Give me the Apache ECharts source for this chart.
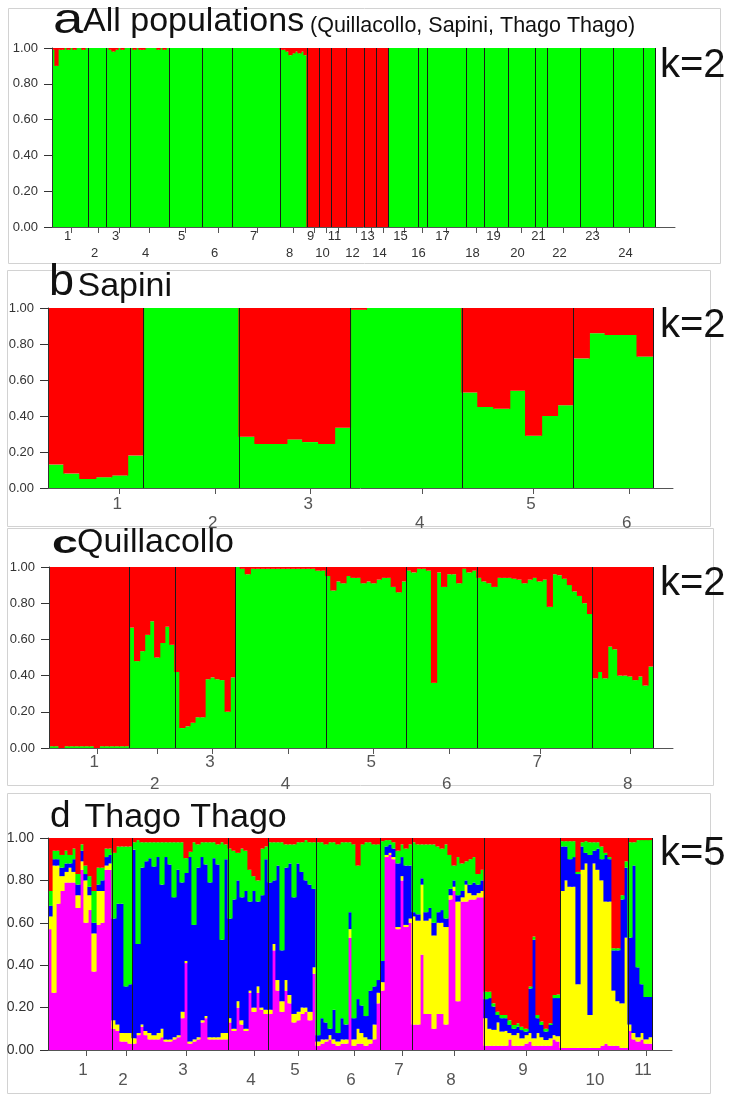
<!DOCTYPE html>
<html><head><meta charset="utf-8"><title>STRUCTURE plots</title>
<script src="https://cdn.jsdelivr.net/npm/echarts@6/dist/echarts.min.js"></script>
<style>html,body{margin:0;padding:0;background:#fff;}#chart{width:737px;height:1103px;}</style>
</head><body><div id="chart"></div>
<script>
const GREEN = '#00ff00', RED = '#ff0000', BLUE = '#0000ff', YELLOW = '#ffff00', MAGENTA = '#ff00ff';

// ---------- Panel a: All populations (k=2) ----------
const aPopLabels = ['1','2','3','4','5','6','7','8','9','10','11','12','13','14','15','16','17','18','19','20','21','22','23','24','25'];
const aPopSizes = [12,6,8,13,11,10,16,9,4,4,5,6,4,4,10,3,13,6,8,9,4,11,11,10,4];
const aGreen = [
  0.99,0.90,0.99,0.99,1,0.99,1,0.99,1,1,0.99,1,
  1,1,1,1,1,1,
  1,0.99,0.98,0.99,1,0.99,1,1,
  1,0.99,1,0.99,0.99,1,1,1,1,0.99,1,0.99,1,
  1,1,1,1,1,1,1,1,1,1,1,
  1,1,1,1,1,1,1,1,1,1,
  1,1,1,1,1,1,1,1,1,1,1,1,1,1,1,1,
  0.99,0.99,0.98,0.96,0.97,0.98,0.97,0.98,0.96,
  0,0,0,0,
  0,0,0,0,
  0,0,0,0,0,
  0,0,0,0,0,0,
  0,0,0,0,
  0,0,0,0,
  1,1,1,1,1,1,1,1,1,1,
  1,1,1,
  1,1,1,1,1,1,1,1,1,1,1,1,1,
  1,1,1,1,1,1,
  1,1,1,1,1,1,1,1,
  1,1,1,1,1,1,1,1,1,
  1,1,1,1,
  1,1,1,1,1,1,1,1,1,1,1,
  1,1,1,1,1,1,1,1,1,1,1,
  1,1,1,1,1,1,1,1,1,1,
  1,1,1,1
];

// ---------- Panel b: Sapini (k=2) ----------
const bPopLabels = ['1','2','3','4','5','6'];
const bPopSizes = [6,6,7,7,7,5];
const bGreen = [
  0.13,0.08,0.05,0.06,0.07,0.18,
  1,1,1,1,1,1,
  0.285,0.245,0.245,0.27,0.255,0.245,0.335,
  0.99,1,1,1,1,1,1,
  0.53,0.45,0.44,0.54,0.29,0.40,0.46,
  0.72,0.86,0.85,0.85,0.73
];

// ---------- Panel c: Quillacollo (k=2) ----------
const cPopLabels = ['1','2','3','4','5','6','7','8'];
const cPopSizes = [16,9,12,18,16,14,23,12];
const cGreen = [
  0.01,0.01,0,0.01,0.01,0.01,0.01,0.01,0.01,0,0.01,0.01,0.01,0.01,0.01,0.01,
  0.665,0.48,0.535,0.625,0.70,0.50,0.58,0.67,0.57,
  0.42,0.11,0.12,0.14,0.17,0.17,0.38,0.39,0.38,0.375,0.20,0.39,
  1,0.99,0.96,0.99,0.99,0.99,0.99,0.99,0.99,0.99,0.99,0.99,0.99,0.99,0.99,0.99,0.98,0.98,
  0.95,0.87,0.92,0.91,0.95,0.94,0.94,0.91,0.92,0.91,0.93,0.94,0.94,0.89,0.86,0.92,
  0.98,0.97,0.99,0.99,0.98,0.36,0.97,0.89,0.96,0.96,0.91,0.99,0.97,0.98,
  0.94,0.92,0.91,0.89,0.94,0.94,0.94,0.935,0.93,0.91,0.93,0.94,0.92,0.93,0.78,0.96,0.955,0.935,0.90,0.865,0.84,0.80,0.74,
  0.385,0.42,0.385,0.56,0.545,0.40,0.40,0.395,0.375,0.395,0.345,0.45
];

// ---------- Panel d: Thago Thago (k=5) ----------
const dPopLabels = ['1','2','3','4','5','6','7','8','9','10','11'];
const dPopSizes = [16,5,24,10,12,16,8,18,19,17,6];
const dMagenta = [
  .57,.27,.69,.75,.79,.79,.79,.67,.85,.60,.66,.37,.59,.60,.85,.85,
  .10,.09,.04,.04,.03,
  .03,.07,.11,.07,.05,.05,.05,.06,.04,.04,.05,.06,.15,.41,.03,.04,.05,.13,.15,.05,.05,.05,.05,.05,
  .13,.09,.20,.12,.09,.27,.18,.27,.19,.17,
  .17,.47,.28,.18,.28,.22,.13,.14,.17,.18,.14,.36,
  .02,.03,.04,.05,.03,.02,.03,.03,.53,.02,.03,.03,.02,.03,.05,.22,
  .28,.91,.92,.90,.57,.80,.58,.60,
  .12,.12,.45,.17,.17,.10,.17,.17,.12,.71,.75,.23,.70,.70,.71,.71,.72,.72,
  .02,.02,.02,.02,.02,.02,.05,.02,.02,.02,.03,.04,.02,.02,.02,.02,.02,.05,.04,
  .01,.01,.01,.01,.01,.01,.01,.01,.01,.01,.02,.03,.02,.02,.02,.01,.01,
  .09,.05,.04,.05,.03,.03
];
const dYellow = [
  .06,.60,.18,.07,.05,.07,.05,.06,.04,.20,.07,.18,.16,.15,.02,.03,
  .04,.03,.04,.04,.05,
  .025,.01,.01,.02,.03,.02,.03,.04,.01,.01,.01,.01,.03,.01,.01,.01,.01,.01,.01,.01,.01,.01,.03,.03,
  .02,.01,.03,.02,.01,.01,.02,.03,.01,.02,
  .02,.03,.05,.05,.05,.04,.04,.04,.03,.02,.04,.03,
  .02,.02,.01,.02,.02,.02,.02,.02,.04,.03,.07,.05,.04,.02,.07,.05,
  .04,.01,.01,.01,.01,.02,.01,.02,
  .51,.49,.33,.44,.45,.44,.43,.43,.46,.02,.02,.47,.02,.08,.03,.02,.02,.03,
  .13,.08,.075,.11,.067,.07,.03,.05,.06,.035,.04,.04,.035,.06,.04,.027,.035,.02,.025,
  .74,.79,.76,.76,.30,.84,.87,.155,.87,.84,.78,.67,.68,.26,.21,.21,.52,
  .03,.03,.02,.03,.02,.03
];
const dBlue = [
  .05,.03,.03,.04,.04,.02,.06,.05,.05,.03,.04,.05,.03,.05,.04,.04,
  .48,.57,.61,.22,.23,
  .89,.42,.74,.80,.825,.795,.83,.68,.86,.825,.66,.78,.61,.415,.87,.54,.80,.77,.715,.73,.845,.815,.44,.82,
  .47,.61,.57,.58,.65,.42,.55,.40,.53,.71,
  .60,.30,.54,.24,.53,.62,.55,.70,.64,.60,.60,.37,
  .03,.10,.08,.03,.14,.04,.10,.07,.08,.10,.14,.13,.10,.23,.18,.06,
  .10,.04,.04,.04,.30,.09,.28,.25,
  .02,.03,.03,.04,.05,.06,.05,.06,.04,.03,.03,.03,.03,.02,.04,.06,.04,.05,
  .09,.145,.11,.035,.063,.06,.038,.03,.03,.039,.017,.21,.465,.07,.058,.04,.063,.175,.18,
  .21,.16,.13,.14,.52,.11,.05,.755,.06,.10,.10,.22,.20,.19,.24,.49,.33,
  .41,.79,.33,.23,.20,.19
];
const dGreen = [
  .07,.04,.04,.06,.06,.04,.05,.05,.03,.04,.05,.15,.08,.06,.04,.03,
  .31,.27,.27,.66,.65,
  .035,.49,.12,.09,.075,.115,.07,.20,.07,.105,.26,.13,.19,.07,.025,.39,.11,.07,.105,.19,.075,.095,.46,.07,
  .33,.23,.13,.23,.19,.15,.07,.10,.22,.06,
  .19,.18,.11,.51,.11,.09,.25,.10,.14,.19,.20,.22,
  .91,.83,.84,.88,.79,.89,.83,.86,.33,.82,.63,.76,.82,.70,.67,.64,
  .565,.03,.02,.03,.06,.06,.08,.10,
  .33,.33,.16,.32,.30,.37,.31,.29,.35,.16,.07,.18,.13,.09,.12,.12,.05,.05,
  .035,.03,.015,.015,.015,.015,.022,.018,.016,.016,.013,.01,.015,.015,.016,.013,.008,.015,.017,
  .025,.025,.085,.075,.01,.02,.055,.06,.04,.03,.06,.01,.01,.01,.01,.02,.03,
  .45,.11,.60,.68,.74,.74
];
const dRed = [
  .25,.06,.06,.08,.06,.08,.05,.17,.03,.13,.18,.25,.14,.14,.05,.05,
  .07,.04,.04,.04,.04,
  .02,.01,.02,.02,.02,.02,.02,.02,.02,.02,.02,.02,.02,.095,.065,.02,.03,.02,.02,.02,.02,.03,.02,.03,
  .05,.06,.07,.05,.06,.15,.18,.20,.05,.04,
  .02,.02,.02,.02,.03,.03,.03,.02,.02,.01,.02,.02,
  .02,.02,.03,.02,.02,.03,.02,.02,.02,.03,.13,.03,.02,.02,.03,.03,
  .015,.01,.01,.02,.06,.03,.05,.03,
  .02,.03,.03,.03,.03,.03,.04,.05,.03,.08,.13,.09,.12,.11,.10,.09,.17,.15,
  .725,.725,.78,.82,.835,.835,.86,.882,.874,.89,.90,.70,.465,.835,.866,.90,.874,.74,.738,
  .015,.015,.015,.015,.16,.02,.015,.02,.02,.02,.04,.07,.09,.52,.52,.27,.11,
  .02,.02,.01,.01,.01,.01
];

// red share of the two-cluster panels is the complement of the green share
function complement(arr) { return arr.map(v => Math.round((1 - v) * 1000) / 1000); }

const NARROW = "'Liberation Sans Narrow','Arial Narrow','Liberation Sans',Arial,sans-serif";
const SANS = "'Liberation Sans',Arial,sans-serif";

const panels = [
  { sizes: aPopSizes, labels: aPopLabels,
    comps: [['Cluster 1', GREEN, aGreen], ['Cluster 2', RED, complement(aGreen)]],
    grid: { left: 52, top: 48, width: 603, height: 179 }, tickShift: 0,
    xl: { fontSize: 13, lineHeight: 17, margin: 1, color: '#333', pad: 8, font: SANS }, yl: 13 },
  { sizes: bPopSizes, labels: bPopLabels,
    comps: [['Cluster 1', GREEN, bGreen], ['Cluster 2', RED, complement(bGreen)]],
    grid: { left: 48, top: 308, width: 605, height: 180 }, tickShift: 1,
    xl: { fontSize: 17, lineHeight: 19, margin: 7, color: '#555', pad: 5, font: NARROW }, yl: 13 },
  { sizes: cPopSizes, labels: cPopLabels,
    comps: [['Cluster 1', GREEN, cGreen], ['Cluster 2', RED, complement(cGreen)]],
    grid: { left: 49, top: 567, width: 604, height: 181 }, tickShift: 1,
    xl: { fontSize: 17, lineHeight: 22, margin: 3, color: '#555', pad: 5, font: NARROW }, yl: 13 },
  { sizes: dPopSizes, labels: dPopLabels,
    comps: [['Cluster 1', MAGENTA, dMagenta], ['Cluster 2', YELLOW, dYellow], ['Cluster 3', BLUE, dBlue], ['Cluster 4', GREEN, dGreen], ['Cluster 5', RED, dRed]],
    grid: { left: 48, top: 838, width: 604, height: 212 }, tickShift: 1,
    xl: { fontSize: 17, lineHeight: 10, margin: 15, color: '#555', pad: 6, font: NARROW }, yl: 14 }
];

const EXT = 20;
const option = {
  animation: false, backgroundColor: '#fff',
  textStyle: { fontFamily: SANS },
  grid: [], xAxis: [], yAxis: [], series: [], graphic: []
};

panels.forEach((p, i) => {
  const N = p.sizes.reduce((s, v) => s + v, 0);
  p.comps.forEach(c => { if (c[2].length !== N) throw new Error('panel ' + i + ' ' + c[0] + ' length ' + c[2].length + ' != ' + N); });
  const starts = []; let acc = 0;
  p.sizes.forEach(s => { starts.push(acc); acc += s; });
  const bounds = p.sizes.map((s, k) => starts[k] + s);
  const ticks = p.sizes.map((s, k) => starts[k] + Math.floor(s / 2) + p.tickShift + 0.5);
  const labelMap = {};
  ticks.forEach((t, k) => { labelMap[t.toFixed(2)] = (k % 2 === 0 ? '' : '\n') + p.labels[k]; });
  const g = p.grid;
  const gBar = 2 * i, gAx = 2 * i + 1;
  // slight overlap of neighbouring bars (about 1.2px) so no seams show between individuals
  const gapPct = (-(1.2 / (g.width / N)) * 100).toFixed(2) + '%';
  option.grid.push({ left: g.left, top: g.top, width: g.width, height: g.height, containLabel: false, outerBoundsMode: 'none' });
  option.grid.push({ left: g.left, top: g.top, width: g.width + EXT, height: g.height, containLabel: false, outerBoundsMode: 'none' });

  option.xAxis.push({ type: 'category', gridIndex: gBar, data: Array.from({ length: N }, (_, k) => String(k + 1)), show: false, boundaryGap: true });
  option.xAxis.push({
    type: 'value', gridIndex: gAx, min: 0, max: N * (g.width + EXT) / g.width, z: 10,
    splitLine: { show: false },
    axisLine: { show: true, onZero: false, lineStyle: { color: '#555', width: 1 } },
    axisTick: { show: true, customValues: ticks, length: 6, inside: false, lineStyle: { color: '#555', width: 1 } },
    axisLabel: { show: true, customValues: ticks, hideOverlap: false, margin: p.xl.margin,
      fontSize: p.xl.fontSize, lineHeight: p.xl.lineHeight, color: p.xl.color, fontFamily: p.xl.font,
      padding: [0, p.xl.pad, 0, 0],
      formatter: v => labelMap[Number(v).toFixed(2)] || '' }
  });
  option.yAxis.push({
    type: 'value', gridIndex: gBar, min: 0, max: 1, interval: 0.2, z: 10,
    splitLine: { show: false },
    axisLine: { show: true, lineStyle: { color: '#333', width: 1 } },
    axisTick: { show: true, length: 8, inside: false, lineStyle: { color: '#333', width: 1 } },
    axisLabel: { show: true, margin: 14, fontSize: p.yl, color: '#333', fontFamily: SANS, formatter: v => Number(v).toFixed(2) }
  });
  option.yAxis.push({ type: 'value', gridIndex: gAx, min: 0, max: 1, show: false });

  p.comps.forEach(c => {
    option.series.push({
      type: 'bar', name: c[0] + ' ' + (i + 1), xAxisIndex: gBar, yAxisIndex: gBar, stack: 'q' + i,
      data: c[2], barCategoryGap: gapPct, barGap: '0%', silent: true, z: 2,
      itemStyle: { color: c[1], borderWidth: 0 },
      emphasis: { disabled: true }
    });
  });
  option.series.push({
    type: 'line', xAxisIndex: gAx, yAxisIndex: gAx, data: [], silent: true, z: 5,
    markLine: { silent: true, symbol: ['none', 'none'], label: { show: false }, animation: false,
      lineStyle: { color: '#1a1a1a', width: 1, type: 'solid' }, emphasis: { disabled: true },
      data: bounds.map(b => ({ xAxis: b })) }
  });
});

// panel frames
[[8, 8, 712, 255], [7, 270, 703, 256], [7, 528, 706, 257], [7, 793, 703, 300]].forEach(r => {
  option.graphic.push({ type: 'rect', silent: true, z: 0, shape: { x: r[0] + 0.5, y: r[1] + 0.5, width: r[2], height: r[3] },
    style: { fill: 'none', stroke: '#d2d2d2', lineWidth: 1 } });
});

function txt(text, x, y, fs, opts) {
  opts = opts || {};
  option.graphic.push({ type: 'text', silent: true, z: 20, x: x, y: y, scaleX: opts.sx || 1,
    style: { text: text, x: 0, y: 0, fill: '#111', font: (opts.bold ? 'bold ' : '') + fs + 'px ' + SANS,
      textAlign: 'left', textVerticalAlign: 'middle', verticalAlign: 'middle' } });
}
// titles (y = baseline - 0.35*fontSize)
txt('a', 53, 36.3 - 0.35 * 42, 42, { sx: 1.3 });
txt('All populations', 83, 33.3 - 0.35 * 34, 34);
txt('(Quillacollo, Sapini, Thago Thago)', 310, 33.3 - 0.35 * 21.5, 21.5);
txt('k=2', 660, 80 - 0.35 * 40, 40);

txt('b', 49, 298.3 - 0.35 * 45, 45);
txt('Sapini', 77.5, 298.3 - 0.35 * 34, 34);
txt('k=2', 660, 340 - 0.35 * 40, 40);

txt('c', 52, 555.3 - 0.35 * 31, 31, { sx: 1.5, bold: true });
txt('Quillacollo', 77, 554.3 - 0.35 * 34, 34);
txt('k=2', 660, 598.3 - 0.35 * 40, 40);

txt('d', 50, 830 - 0.35 * 37, 37);
txt('Thago Thago', 84.5, 830 - 0.35 * 34, 34);
txt('k=5', 660, 868.3 - 0.35 * 40, 40);

const chart = echarts.init(document.getElementById('chart'), null, { renderer: 'canvas' });
chart.setOption(option);
</script>
</body></html>
